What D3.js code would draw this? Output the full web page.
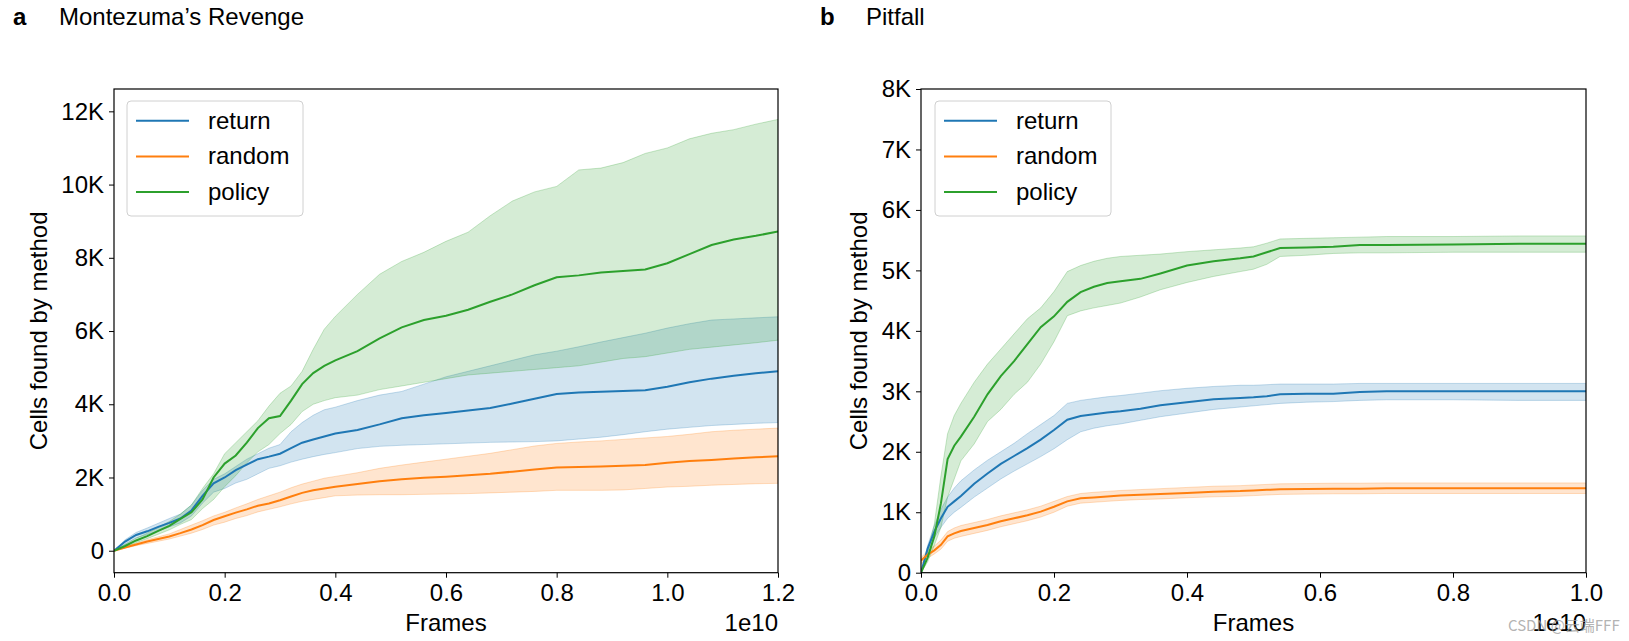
<!DOCTYPE html>
<html>
<head>
<meta charset="utf-8">
<script src="https://cdn.jsdelivr.net/npm/d3@7/dist/d3.min.js"></script>
<style>
  html, body { margin: 0; padding: 0; background: #fff; }
  svg { display: block; font-family: "Liberation Sans", Arial, Helvetica, sans-serif; }
</style>
</head>
<body>
<svg id="chart" width="1629" height="641"></svg>
<script>
// ---------------- DATA ----------------
const methods = ["return", "random", "policy"];
const colors = ["#1f77b4", "#ff7f0e", "#2ca02c"];

// Panel a: Montezuma's Revenge (frames in units of 1e10)
const framesA = [0, 0.02, 0.04, 0.06, 0.08, 0.10, 0.12, 0.14, 0.16, 0.18, 0.20, 0.22, 0.24, 0.26, 0.28, 0.30, 0.32, 0.34, 0.36, 0.38, 0.40, 0.44, 0.48, 0.52, 0.56, 0.60, 0.64, 0.68, 0.72, 0.76, 0.80, 0.84, 0.88, 0.92, 0.96, 1.00, 1.04, 1.08, 1.12, 1.16, 1.20];
const returnMeanA = [0, 250, 430, 530, 650, 760, 880, 1100, 1500, 1840, 2000, 2200, 2350, 2500, 2570, 2650, 2800, 2950, 3040, 3120, 3200, 3300, 3450, 3620, 3700, 3760, 3830, 3900, 4020, 4150, 4280, 4320, 4340, 4360, 4380, 4480, 4600, 4700, 4780, 4850, 4900];
const returnHiA   = [0, 300, 500, 620, 750, 880, 1000, 1250, 1650, 1950, 2100, 2300, 2500, 2650, 2800, 2900, 3250, 3500, 3700, 3850, 3920, 4100, 4250, 4350, 4550, 4750, 4900, 5050, 5200, 5350, 5450, 5570, 5700, 5820, 5940, 6080, 6200, 6300, 6330, 6360, 6390];
const returnLoA   = [0, 180, 350, 440, 540, 650, 760, 950, 1300, 1600, 1700, 1850, 1950, 2100, 2250, 2320, 2420, 2500, 2570, 2630, 2680, 2790, 2850, 2880, 2900, 2920, 2940, 2960, 2970, 2980, 3000, 3050, 3100, 3170, 3250, 3320, 3370, 3420, 3450, 3480, 3500];
const randomMeanA = [0, 90, 170, 250, 320, 390, 480, 580, 700, 840, 940, 1040, 1130, 1230, 1290, 1380, 1480, 1580, 1650, 1700, 1750, 1820, 1900, 1950, 1990, 2020, 2060, 2100, 2160, 2220, 2270, 2290, 2300, 2320, 2340, 2400, 2450, 2480, 2520, 2550, 2580];
const randomHiA   = [0, 110, 200, 300, 380, 460, 580, 700, 820, 950, 1050, 1170, 1280, 1400, 1500, 1600, 1720, 1820, 1900, 1980, 2030, 2130, 2250, 2340, 2420, 2500, 2580, 2660, 2760, 2860, 2930, 2970, 3000, 3040, 3080, 3120, 3180, 3250, 3290, 3320, 3350];
const randomLoA   = [0, 70, 140, 200, 260, 320, 400, 480, 580, 700, 780, 880, 960, 1060, 1130, 1200, 1280, 1350, 1400, 1450, 1500, 1520, 1530, 1530, 1540, 1550, 1560, 1580, 1600, 1620, 1650, 1650, 1650, 1660, 1700, 1740, 1760, 1790, 1810, 1830, 1840];
const policyMeanA = [0, 130, 280, 400, 540, 680, 870, 1050, 1400, 2000, 2380, 2600, 2950, 3350, 3620, 3680, 4100, 4550, 4850, 5050, 5200, 5450, 5800, 6100, 6300, 6420, 6580, 6800, 7000, 7250, 7470, 7520, 7600, 7640, 7680, 7850, 8100, 8350, 8500, 8600, 8720];
const policyHiA   = [0, 170, 340, 480, 640, 800, 1000, 1250, 1700, 2100, 2650, 2950, 3250, 3550, 3950, 4300, 4500, 4900, 5500, 6050, 6400, 7000, 7550, 7900, 8150, 8450, 8700, 9150, 9550, 9800, 9950, 10400, 10450, 10600, 10850, 11000, 11250, 11400, 11500, 11650, 11780];
const policyLoA   = [0, 90, 220, 330, 450, 570, 720, 850, 1150, 1400, 1750, 2050, 2400, 2700, 2900, 3200, 3450, 3800, 4000, 4100, 4180, 4250, 4400, 4500, 4600, 4700, 4800, 4850, 4900, 4950, 5000, 5050, 5150, 5250, 5300, 5400, 5500, 5560, 5620, 5680, 5750];

// Panel b: Pitfall
const framesB = [0, 0.01, 0.02, 0.03, 0.04, 0.05, 0.06, 0.08, 0.10, 0.12, 0.14, 0.16, 0.18, 0.20, 0.22, 0.24, 0.26, 0.28, 0.30, 0.33, 0.36, 0.40, 0.44, 0.48, 0.50, 0.52, 0.54, 0.58, 0.62, 0.66, 0.70, 0.80, 0.90, 1.00];
const returnMeanB = [0, 400, 680, 900, 1090, 1180, 1270, 1470, 1640, 1800, 1930, 2060, 2200, 2360, 2530, 2590, 2620, 2650, 2670, 2710, 2770, 2820, 2870, 2890, 2900, 2920, 2950, 2960, 2960, 2990, 3000, 3000, 3000, 3000];
const returnHiB   = [0, 450, 780, 1050, 1250, 1400, 1520, 1700, 1860, 2000, 2140, 2300, 2450, 2600, 2800, 2850, 2880, 2910, 2930, 2970, 3010, 3050, 3080, 3100, 3100, 3110, 3120, 3120, 3120, 3130, 3130, 3130, 3130, 3130];
const returnLoB   = [0, 350, 580, 750, 900, 1000, 1080, 1250, 1400, 1550, 1680, 1800, 1920, 2050, 2200, 2330, 2390, 2430, 2460, 2520, 2580, 2640, 2700, 2740, 2760, 2780, 2800, 2820, 2830, 2850, 2860, 2860, 2850, 2850];
const randomMeanB = [200, 300, 370, 460, 600, 650, 690, 740, 790, 850, 900, 950, 1010, 1090, 1180, 1230, 1245, 1260, 1275, 1290, 1300, 1320, 1340, 1350, 1360, 1370, 1380, 1385, 1390, 1390, 1395, 1395, 1395, 1395];
const randomHiB   = [250, 360, 440, 540, 680, 740, 780, 830, 880, 940, 990, 1040, 1100, 1180, 1260, 1310, 1330, 1345, 1360, 1375, 1390, 1410, 1430, 1440, 1450, 1460, 1470, 1475, 1480, 1480, 1485, 1485, 1485, 1485];
const randomLoB   = [150, 240, 310, 390, 520, 570, 600, 650, 700, 760, 810, 860, 920, 1000, 1100, 1150, 1165, 1180, 1195, 1210, 1220, 1240, 1255, 1265, 1275, 1285, 1295, 1300, 1305, 1305, 1310, 1310, 1310, 1310];
const policyMeanB = [0, 250, 600, 1150, 1880, 2100, 2250, 2580, 2950, 3250, 3500, 3780, 4060, 4240, 4480, 4640, 4730, 4790, 4820, 4860, 4950, 5080, 5150, 5200, 5230, 5300, 5370, 5380, 5390, 5420, 5420, 5430, 5440, 5440];
const policyHiB   = [0, 350, 800, 1600, 2300, 2600, 2800, 3150, 3450, 3700, 3950, 4200, 4380, 4650, 4980, 5080, 5150, 5200, 5230, 5250, 5270, 5310, 5340, 5370, 5390, 5450, 5520, 5530, 5540, 5550, 5560, 5560, 5570, 5570];
const policyLoB   = [0, 180, 450, 750, 1250, 1550, 1850, 2130, 2500, 2700, 2950, 3150, 3450, 3820, 4250, 4330, 4380, 4420, 4460, 4560, 4680, 4800, 4900, 4980, 5020, 5100, 5230, 5250, 5280, 5290, 5290, 5300, 5300, 5300];

// Tick labels
const xTicksA = [0, 0.2, 0.4, 0.6, 0.8, 1.0, 1.2];
const xTicksB = [0, 0.2, 0.4, 0.6, 0.8, 1.0];
const yTicksA = [0, 2000, 4000, 6000, 8000, 10000, 12000];
const yTicksB = [0, 1000, 2000, 3000, 4000, 5000, 6000, 7000, 8000];
const titles = [["a", "Montezuma\u2019s Revenge"], ["b", "Pitfall"]];
const xLabel = "Frames";
const yLabel = "Cells found by method";
const offsetLabel = "1e10";

// ---------------- DRAW ----------------
const svg = d3.select("#chart");
const FS = 24;

const panels = [
  {
    frames: framesA,
    series: [[returnMeanA, returnLoA, returnHiA], [randomMeanA, randomLoA, randomHiA], [policyMeanA, policyLoA, policyHiA]],
    x: d3.scaleLinear().domain([0, 1.2]).range([114, 778]),
    y: d3.scaleLinear().domain([-600, 12610]).range([572.7, 89]),
    xTicks: xTicksA, yTicks: yTicksA, title: titles[0],
    titleX: 13, yLabelX: 47, legendX: 127
  },
  {
    frames: framesB,
    series: [[returnMeanB, returnLoB, returnHiB], [randomMeanB, randomLoB, randomHiB], [policyMeanB, policyLoB, policyHiB]],
    x: d3.scaleLinear().domain([0, 1.0]).range([921, 1586]),
    y: d3.scaleLinear().domain([0, 8000]).range([572.7, 89]),
    xTicks: xTicksB, yTicks: yTicksB, title: titles[1],
    titleX: 820, yLabelX: 867, legendX: 935
  }
];

panels.forEach((p, pi) => {
  const g = svg.append("g");
  const [x0, x1] = p.x.range();
  const [y0, y1] = p.y.range();
  const clipId = "clip" + pi;
  svg.append("clipPath").attr("id", clipId).append("rect")
    .attr("x", x0).attr("y", y1).attr("width", x1 - x0).attr("height", y0 - y1);

  const plot = g.append("g").attr("clip-path", `url(#${clipId})`);
  const area = d3.area().x((d, i) => p.x(p.frames[i])).y0(d => p.y(d[0])).y1(d => p.y(d[1]));
  const line = d3.line().x((d, i) => p.x(p.frames[i])).y(d => p.y(d));

  // fills
  p.series.forEach((s, k) => {
    const pts = p.frames.map((f, i) => [s[1][i], s[2][i]]);
    plot.append("path").attr("d", area(pts))
      .attr("fill", colors[k]).attr("fill-opacity", 0.2)
      .attr("stroke", colors[k]).attr("stroke-opacity", 0.25).attr("stroke-width", 1);
  });
  // mean lines
  p.series.forEach((s, k) => {
    plot.append("path").attr("d", line(s[0]))
      .attr("fill", "none").attr("stroke", colors[k]).attr("stroke-width", 2);
  });

  // axes
  const xAxis = d3.axisBottom(p.x).tickValues(p.xTicks).tickFormat(d3.format(".1f")).tickSize(5).tickPadding(6);
  const yAxis = d3.axisLeft(p.y).tickValues(p.yTicks).tickFormat(v => v === 0 ? "0" : (v / 1000) + "K").tickSize(5).tickPadding(5);
  const gx = g.append("g").attr("transform", `translate(0,${y0})`).call(xAxis);
  const gy = g.append("g").attr("transform", `translate(${x0},0)`).call(yAxis);
  [gx, gy].forEach(a => {
    a.select(".domain").remove();
    a.selectAll("text").attr("font-size", FS).attr("fill", "#000").attr("font-family", "Liberation Sans, Arial, sans-serif");
    a.selectAll("line").attr("stroke", "#000").attr("stroke-width", 1);
  });

  // frame
  g.append("rect").attr("x", x0).attr("y", y1).attr("width", x1 - x0).attr("height", y0 - y1)
    .attr("fill", "none").attr("stroke", "#000").attr("stroke-width", 1.2);

  // labels
  g.append("text").attr("x", (x0 + x1) / 2).attr("y", 631).attr("text-anchor", "middle")
    .attr("font-size", FS).text(xLabel);
  g.append("text").attr("x", x1).attr("y", 631).attr("text-anchor", "end")
    .attr("font-size", FS).text(offsetLabel);
  g.append("text").attr("transform", `translate(${p.yLabelX},${(y0 + y1) / 2}) rotate(-90)`)
    .attr("text-anchor", "middle").attr("font-size", FS).text(yLabel);

  // title
  g.append("text").attr("x", p.titleX).attr("y", 25).attr("font-size", FS).attr("font-weight", "bold").text(p.title[0]);
  g.append("text").attr("x", p.titleX + 46).attr("y", 25).attr("font-size", FS).text(p.title[1]);

  // legend
  const lg = g.append("g");
  lg.append("rect").attr("x", p.legendX).attr("y", 101).attr("width", 176).attr("height", 115)
    .attr("rx", 4).attr("fill", "#fff").attr("fill-opacity", 0.8).attr("stroke", "#d0d0d0").attr("stroke-width", 1);
  methods.forEach((m, k) => {
    const yy = 120.7 + k * 35.7;
    lg.append("line").attr("x1", p.legendX + 9).attr("x2", p.legendX + 62).attr("y1", yy).attr("y2", yy)
      .attr("stroke", colors[k]).attr("stroke-width", 2);
    lg.append("text").attr("x", p.legendX + 81).attr("y", yy + 8).attr("font-size", FS).text(m);
  });
});

// watermark present in the reference image
svg.append("text").attr("x", 1508).attr("y", 631).attr("font-size", 15)
  .attr("font-family", "Noto Sans CJK SC, sans-serif").attr("fill", "#a0a0a0").attr("fill-opacity", 0.8)
  .text("CSDN @云端FFF");
</script>
</body>
</html>
